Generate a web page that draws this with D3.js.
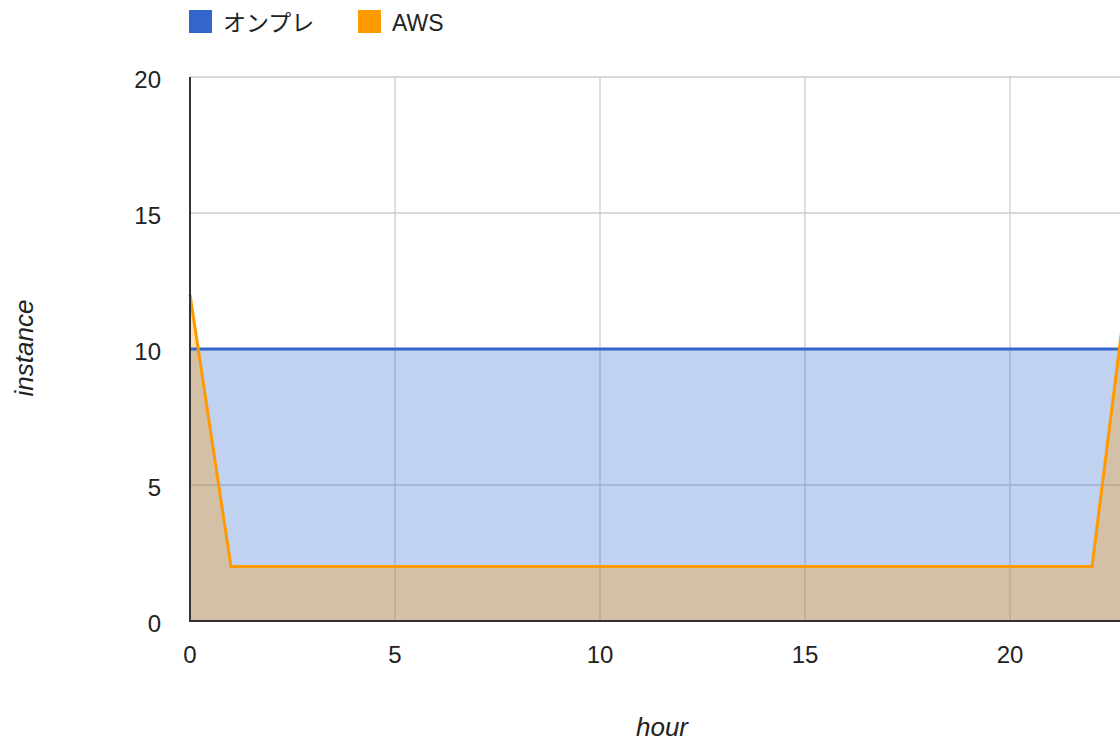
<!DOCTYPE html>
<html><head><meta charset="utf-8">
<script src="https://cdn.jsdelivr.net/npm/d3@7"></script>
<style>
html,body{margin:0;padding:0;background:#fff;overflow:hidden;}
svg{display:block;font-family:"Liberation Sans",Arial,sans-serif;}
</style></head>
<body>
<svg id="c" width="1120" height="742"></svg>
<script>
const hours = d3.range(0, 24);
const seriesNames = ["オンプレ", "AWS"];
const seriesColors = ["#3366cc", "#ff9900"];
const onpre = [10,10,10,10,10,10,10,10,10,10,10,10,10,10,10,10,10,10,10,10,10,10,10,10];
const aws   = [12,2,2,2,2,2,2,2,2,2,2,2,2,2,2,2,2,2,2,2,2,2,2,14];
const xTicks = [0,5,10,15,20];
const yTicks = [0,5,10,15,20];

const svg = d3.select("#c");
const x = d3.scaleLinear().domain([0,24]).range([190, 190+24*41]);
const y = d3.scaleLinear().domain([0,20]).range([621, 77]);

// gridlines
const g = svg.append("g");
g.selectAll(".hg").data(yTicks.filter(d=>d>0)).enter().append("line")
  .attr("x1",190).attr("x2",1120).attr("y1",d=>y(d)).attr("y2",d=>y(d))
  .attr("stroke","#cccccc").attr("stroke-width",1.3);
g.selectAll(".vg").data(xTicks.filter(d=>d>0)).enter().append("line")
  .attr("y1",y(20)).attr("y2",y(0)).attr("x1",d=>x(d)).attr("x2",d=>x(d))
  .attr("stroke","#cccccc").attr("stroke-width",1.3);

const series = [onpre, aws];
const area = d3.area().x((d,i)=>x(hours[i])).y0(y(0)).y1(d=>y(d));
const line = d3.line().x((d,i)=>x(hours[i])).y(d=>y(d));
series.forEach((s,k)=>{
  svg.append("path").attr("d",area(s)).attr("fill",seriesColors[k]).attr("fill-opacity",0.3);
});
series.forEach((s,k)=>{
  svg.append("path").attr("d",line(s)).attr("fill","none").attr("stroke",seriesColors[k]).attr("stroke-width",3).attr("stroke-linejoin","miter");
});

// axes baselines
svg.append("line").attr("x1",189).attr("x2",1120).attr("y1",y(0)).attr("y2",y(0)).attr("stroke","#333").attr("stroke-width",2);
svg.append("line").attr("x1",190).attr("x2",190).attr("y1",y(20)).attr("y2",y(0)+1).attr("stroke","#333").attr("stroke-width",2);

// tick labels
svg.selectAll(".yl").data(yTicks).enter().append("text")
  .attr("x",161).attr("y",d=>y(d)+11).attr("text-anchor","end")
  .attr("font-size",24).attr("fill","#222").text(d=>d);
svg.selectAll(".xl").data(xTicks).enter().append("text")
  .attr("x",d=>x(d)).attr("y",663).attr("text-anchor","middle")
  .attr("font-size",24).attr("fill","#222").text(d=>d);

// axis titles
svg.append("text").attr("x",662).attr("y",736).attr("text-anchor","middle")
  .attr("font-size",26).attr("font-style","italic").attr("fill","#222").text("hour");
svg.append("text").attr("transform","translate(33,348) rotate(-90)").attr("text-anchor","middle")
  .attr("font-size",26).attr("font-style","italic").attr("fill","#222").text("instance");

// legend
const legX = [189, 358];
seriesNames.forEach((n,k)=>{
  svg.append("rect").attr("x",legX[k]).attr("y",10).attr("width",23).attr("height",23).attr("fill",seriesColors[k]);
  svg.append("text").attr("x",legX[k]+34).attr("y",31).attr("font-size",23).attr("fill","#222")
    .attr("font-family", k===0 ? "'Noto Sans CJK JP',sans-serif" : null).text(n);
});
</script>
</body></html>
